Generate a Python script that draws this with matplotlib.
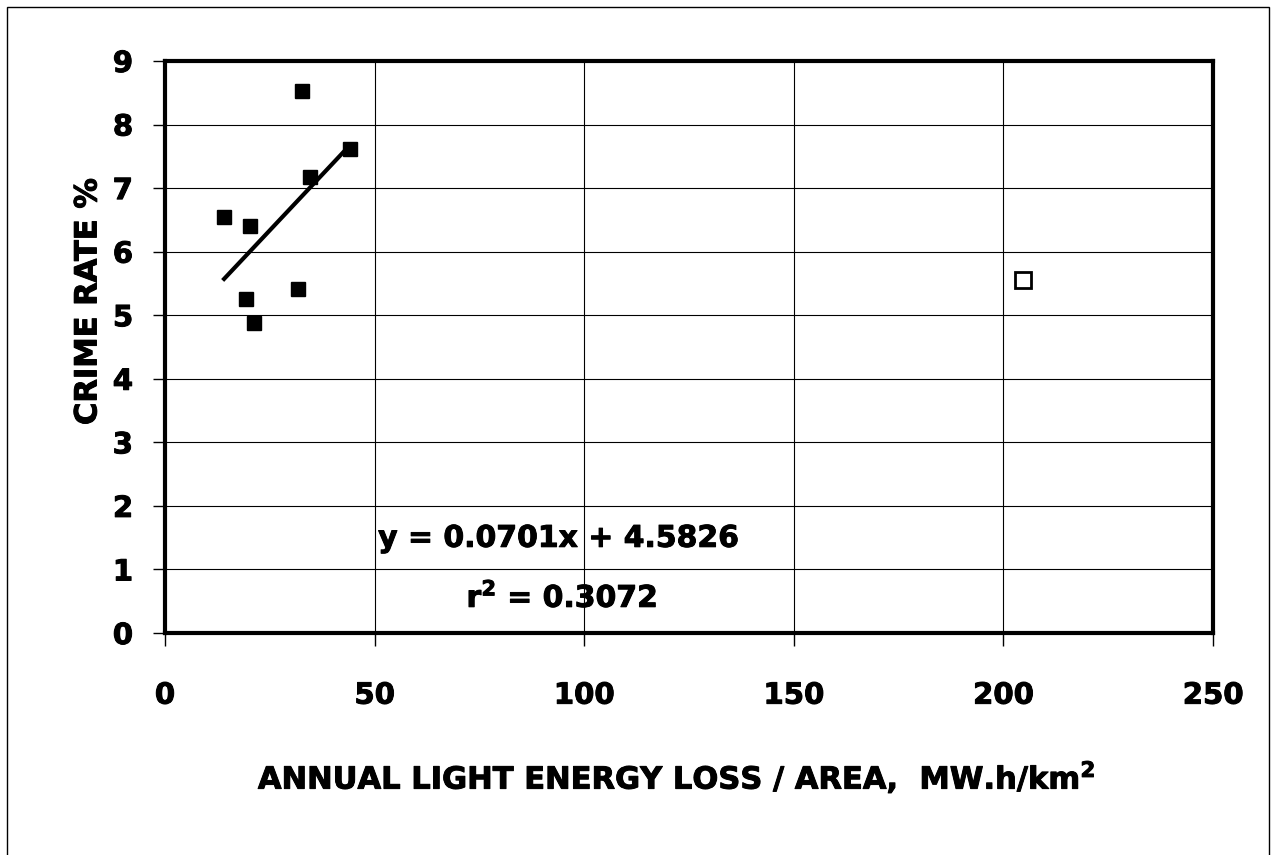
import matplotlib.pyplot as plt
import matplotlib.patheffects as pe
import numpy as np
from matplotlib.patches import Rectangle

plt.rcParams['font.family'] = ['DejaVu Sans']
plt.rcParams['font.weight'] = 'bold'
plt.rcParams['mathtext.default'] = 'bf'

# filled points (used in the fit)
energy = [14.1, 20.3, 19.3, 21.2, 32.7, 34.6, 31.7, 44.1]
crime = [6.54, 6.41, 5.25, 4.87, 8.53, 7.17, 5.41, 7.61]
# open point (outlier, not in fit)
energy_out = [204.7]
crime_out = [5.55]

slope = 0.0701
intercept = 4.5826
r2 = 0.3072

xticks = [0, 50, 100, 150, 200, 250]
yticks = list(range(10))

heavy = [pe.withStroke(linewidth=0.7, foreground='black')]

fig = plt.figure(figsize=(12.72, 8.55), dpi=100)
ax = fig.add_axes([0.1297, 0.2596, 0.8239, 0.6691])

ax.grid(True, color='black', linewidth=0.8)
ax.set_axisbelow(True)

ax.plot(energy, crime, 's', color='black', markersize=10, zorder=3)
ax.plot(energy_out, crime_out, 's', markerfacecolor='white',
        markeredgecolor='black', markeredgewidth=2, markersize=11, zorder=3)

xf = np.array([min(energy), max(energy)])
ax.plot(xf, slope * xf + intercept, color='black', linewidth=3, zorder=2)

ax.set_xlim(0, 250)
ax.set_ylim(0, 9)
ax.set_xticks(xticks)
ax.set_yticks(yticks)
ax.tick_params(axis='x', direction='out', length=9, width=1, pad=26, labelsize=21)
ax.tick_params(axis='y', direction='out', length=9, width=1, pad=14, labelsize=21)
for lab in ax.get_xticklabels() + ax.get_yticklabels():
    lab.set_fontweight('bold')
    lab.set_path_effects(heavy)
for s in ax.spines.values():
    s.set_linewidth(3)

xl = ax.set_xlabel('ANNUAL LIGHT ENERGY LOSS / AREA,  MW.h/km$^{2}$',
                   fontsize=22, fontweight='bold', path_effects=heavy)
xl.set_va('center')
ax.xaxis.set_label_coords(0.4876, -0.252)
yl = ax.set_ylabel('CRIME RATE %', fontsize=22, fontweight='bold',
                   path_effects=heavy)
yl.set_va('center')
ax.yaxis.set_label_coords(-0.0735, 0.579)

ax.text(93.8, 1.49, 'y = %.4fx + %.4f' % (slope, intercept), fontsize=21.5,
        fontweight='bold', ha='center', va='center', path_effects=heavy)
ax.text(94.7, 0.57, 'r$^{2}$ = %.4f' % r2, fontsize=21.5,
        fontweight='bold', ha='center', va='center', path_effects=heavy)

fig.patches.append(Rectangle((7 / 1272, -0.01), 1262 / 1272, 1 - 7 / 855 + 0.01,
                             transform=fig.transFigure, fill=False,
                             edgecolor='black', linewidth=1))

plt.savefig('out.png', dpi=100)
